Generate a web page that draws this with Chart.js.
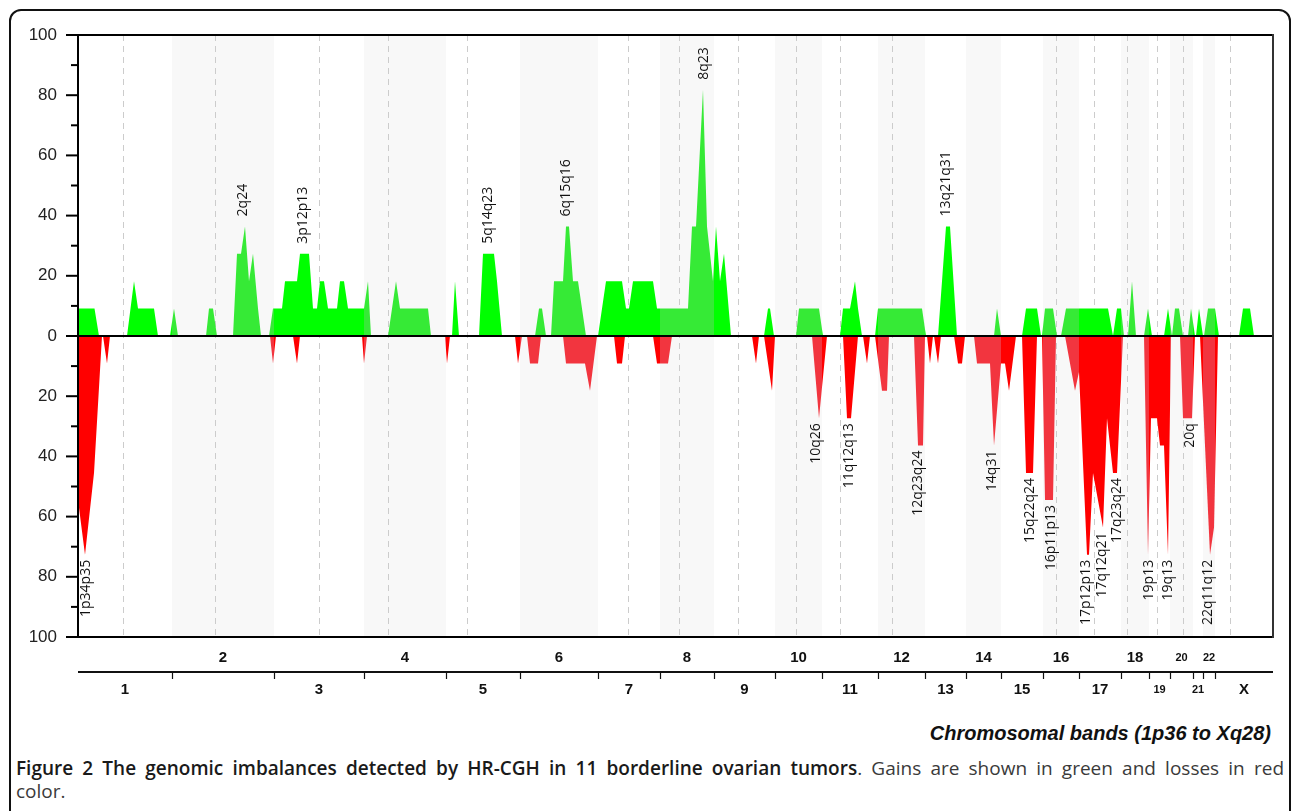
<!DOCTYPE html>
<html><head><meta charset="utf-8">
<script src="https://cdn.jsdelivr.net/npm/chart.js@4/dist/chart.umd.min.js"></script>
<style>
html,body{margin:0;padding:0;background:#fff;width:1293px;height:811px;overflow:hidden;position:relative;}
#frame{position:absolute;left:9px;top:9px;width:1282px;height:840px;border:2px solid #111;border-radius:12px;box-sizing:border-box;}
#c{position:absolute;left:0;top:0;}
#xtitle{position:absolute;right:22px;top:722px;line-height:22px;font:italic bold 20px 'Liberation Sans',Arial,sans-serif;color:#111;}
#cap{position:absolute;left:16px;top:757px;width:1268px;font-family:'Open Sans',sans-serif;font-size:16px;line-height:23px;color:#3a3a3a;}
#cap .l1{text-align:justify;text-align-last:justify;}
#cap b{color:#1a1a1a;font-weight:600;}
#meas{position:absolute;left:0;top:-200px;white-space:nowrap;font-family:'Open Sans',sans-serif;font-size:16px;visibility:hidden;}
#meas b{font-weight:600;}
</style></head><body>
<div id="frame"></div>
<canvas id="c" width="1293" height="720"></canvas>
<div id="xtitle">Chromosomal bands (1p36 to Xq28)</div>
<div id="cap"><div class="l1"><b>Figure 2 The genomic imbalances detected by HR-CGH in 11 borderline ovarian tumors</b>. Gains are shown in green and losses in red</div><div>color.</div></div>
<span id="meas"><b>Figure 2 The genomic imbalances detected by HR-CGH in 11 borderline ovarian tumors</b>. Gains are shown in green and losses in red</span>
<script>
// Genomic position units along the concatenated genome (1p36 -> Xq28)
const chromNames = ['1','2','3','4','5','6','7','8','9','10','11','12','13','14','15','16','17','18','19','20','21','22','X'];
const chromBounds = [0,94,196,286,368,442,520,582,636,697,744,800,847,888,923,965,1001,1043,1071,1092,1115,1125,1137,1195];
const centromeres = [45,137,241,310,389,550,601,660,718,762,814,978,1016,1049,1079,1105,1152];

// Percentage of tumors with gain (positive) at each position
const gains = [
[0,9.1],[16.5,9.1],[21,0],[49,0],[56,18.2],[60,9.1],[76,9.1],[80,0],
[92,0],[96,9.1],[100,0],[128,0],[131,9.1],[135,9.1],[139,0],
[155,0],[159,27.3],[163,27.3],[167,36.4],[171,18.2],[175,27.3],[180,9.1],[183,0],
[191,0],[195,9.1],[204,9.1],[207,18.2],[219,18.2],[222,27.3],[231,27.3],[235,9.1],[239,9.1],[242,18.2],[246,18.2],[250,9.1],[259,9.1],[262,18.2],[266,18.2],[270,9.1],[286,9.1],[290,18.2],[293,0],
[310,0],[318,18.2],[322,9.1],[350,9.1],[353,0],
[374,0],[377,18.2],[381,0],[401,0],[405,27.3],[416,27.3],[419,18.2],[424,0],
[457,0],[461,9.1],[464,9.1],[468,0],[473,0],[476,18.2],[485,18.2],[488,36.4],[491,36.4],[495,18.2],[500,18.2],[508,0],
[520,0],[528,18.2],[544,18.2],[548,9.1],[551,9.1],[555,18.2],[575,18.2],[579,9.1],
[610,9.1],[614,36.4],[618,36.4],[625,81.8],[629,36.4],[632,27.3],[635,18.2],[638,36.4],[642,18.2],[646,27.3],[653,0],
[686,0],[690,9.1],[692,9.1],[696,0],
[718,0],[721,9.1],[741,9.1],[745,0],
[762,0],[765,9.1],[772,9.1],[777,18.2],[780,9.1],[784,0],
[797,0],[800,9.1],[844,9.1],[848,0],
[860,0],[868,36.4],[872,36.4],[879,0],
[916,0],[919,9.1],[923,0],
[944,0],[948,9.1],[959,9.1],[963,0],
[964,0],[967,9.1],[975,9.1],[979,0],[983,0],[988,9.1],[1030,9.1],[1035,0],[1039,9.1],[1043,9.1],[1046,0],
[1050,0],[1054,18.2],[1058,0],[1066,0],[1070,9.1],[1074,0],
[1086,0],[1090,9.1],[1094,0],[1097,9.1],[1101,9.1],[1105,0],[1110,0],[1113,9.1],[1117,0],
[1118,0],[1121,9.1],[1125,0],[1126,0],[1130,9.1],[1137,9.1],[1141,0],
[1161,0],[1165,9.1],[1172,9.1],[1176,0]
];

// Percentage of tumors with loss (negative) at each position
const losses = [
[0,-54.5],[7,-72.7],[16,-45.5],[24,0],[25,0],[29,-9.1],[32,0],
[192,0],[195,-9.1],[198,0],[215,0],[219,-9.1],[222,0],
[284,0],[286,-9.1],[289,0],[367,0],[369,-9.1],[372,0],
[437,0],[440,-9.1],[444,0],[449,0],[452,-9.1],[460,-9.1],[463,0],[485,0],[488,-9.1],[507,-9.1],[512,-18.2],[519,0],
[536,0],[539,-9.1],[544,-9.1],[547,0],[575,0],[579,-9.1],[590,-9.1],[594,0],
[674,0],[678,-9.1],[681,0],[686,0],[694,-18.2],[697,0],
[734,0],[741,-27.3],[749,0],
[765,0],[769,-27.3],[773,-27.3],[780,0],[785,0],[789,-9.1],[792,0],
[797,0],[804,-18.2],[809,-18.2],[811,0],[836,0],[840,-36.4],[845,-36.4],[847,0],
[849,0],[852,-9.1],[855,0],[856,0],[860,-9.1],[863,0],[876,0],[880,-9.1],[884,-9.1],[887,0],
[896,0],[899,-9.1],[912,-9.1],[916,-36.4],[923,-9.1],[927,-9.1],[931,-18.2],[938,0],
[944,0],[948,-45.5],[955,-45.5],[959,0],
[964,0],[967,-54.5],[975,-54.5],[978,0],[987,0],[997,-18.2],[1001,-12],[1009,-72.7],[1011,-72.7],[1015,-45.5],[1025,-63.6],[1029,-27.3],[1035,-45.5],[1039,-45.5],[1045,0],
[1066,0],[1070,-72.7],[1073,-27.3],[1079,-27.3],[1082,-36.4],[1086,-36.4],[1090,-72.7],[1093,0],
[1102,0],[1105,-27.3],[1114,-27.3],[1117,0],
[1122,0],[1132,-72.7],[1136,-63.6],[1140,0]
];

// Annotated regions: name, position, peak value
const regionNames = ['2q24','3p12p13','5q14q23','6q15q16','8q23','13q21q31','1p34p35','10q26','11q12q13','12q23q24','14q31','15q22q24','16p11p13','17p12p13','17q12q21','17q23q24','19p13','19q13','20q','22q11q12'];
const regionPos   = [165,225,410,488,626,868,8,738,771,840,914,952,973,1008,1024,1039,1071,1090,1112,1130];
const regionPeak  = [36.4,27.3,27.3,36.4,81.8,36.4,-72.7,-27.3,-27.3,-36.4,-36.4,-45.5,-54.5,-72.7,-63.6,-45.5,-72.7,-72.7,-27.3,-72.7];

const yTicks = [-100,-80,-60,-40,-20,0,20,40,60,80,100];

// fit caption first line to the available width
(function(){
  const m=document.getElementById('meas');
  const w=m.getBoundingClientRect().width;
  const fs=Math.min(19, 16*1260/w);
  document.getElementById('cap').style.fontSize=fs.toFixed(2)+'px';
})();

function valueAt(series, p){
  if (p < series[0][0] || p > series[series.length-1][0]) return 0;
  for (let i=0;i<series.length-1;i++){
    const a=series[i], b=series[i+1];
    if (p>=a[0] && p<=b[0]){
      if (b[0]===a[0]) return a[1];
      return a[1] + (b[1]-a[1])*(p-a[0])/(b[0]-a[0]);
    }
  }
  return series[series.length-1][1];
}
function chromPoints(series, s, e){
  const pts=[{x:s,y:valueAt(series,s)}];
  series.forEach(([p,v])=>{ if(p>s && p<e) pts.push({x:p,y:v}); });
  pts.push({x:e,y:valueAt(series,e)});
  return pts;
}
const GAIN_ODD='#00ff00', GAIN_EVEN='#36ea36', LOSS_ODD='#ff0000', LOSS_EVEN='#f2353f';
const datasets=[];
chromNames.forEach((n,i)=>{
  const s=chromBounds[i], e=chromBounds[i+1], odd=(i%2===0);
  datasets.push({data:chromPoints(gains,s,e), fill:'origin', backgroundColor: odd?GAIN_ODD:GAIN_EVEN, borderColor:'rgba(0,0,0,0)', borderWidth:0, pointRadius:0, tension:0});
  datasets.push({data:chromPoints(losses,s,e), fill:'origin', backgroundColor: odd?LOSS_ODD:LOSS_EVEN, borderColor:'rgba(0,0,0,0)', borderWidth:0, pointRadius:0, tension:0});
});

const cghPlugin = {
  id:'cgh',
  beforeDatasetsDraw(chart){
    const {ctx, chartArea:a, scales:{x}} = chart;
    ctx.save();
    ctx.fillStyle='#f8f8f8';
    for(let i=0;i<chromNames.length;i++){
      if(i%2===1){
        const x0=x.getPixelForValue(chromBounds[i]), x1=x.getPixelForValue(chromBounds[i+1]);
        ctx.fillRect(x0,a.top,x1-x0,a.bottom-a.top);
      }
    }
    ctx.strokeStyle='#cccccc'; ctx.lineWidth=1; ctx.setLineDash([6,5]);
    centromeres.forEach(c=>{
      const px=Math.round(x.getPixelForValue(c))+0.5;
      ctx.beginPath(); ctx.moveTo(px,a.top); ctx.lineTo(px,a.bottom); ctx.stroke();
    });
    ctx.restore();
  },
  afterDatasetsDraw(chart){
    const {ctx, chartArea:a, scales:{x,y}} = chart;
    ctx.save();
    ctx.strokeStyle='#000'; ctx.lineWidth=2;
    const y0=y.getPixelForValue(0);
    ctx.beginPath(); ctx.moveTo(a.left,y0); ctx.lineTo(a.right,y0); ctx.stroke();
    ctx.beginPath(); ctx.moveTo(a.left,a.top); ctx.lineTo(a.right,a.top); ctx.stroke();
    ctx.beginPath(); ctx.moveTo(a.left,a.bottom); ctx.lineTo(a.right,a.bottom); ctx.stroke();
    ctx.beginPath(); ctx.moveTo(a.left,a.top-1); ctx.lineTo(a.left,a.bottom+1); ctx.stroke();
    ctx.strokeStyle='#333';
    ctx.beginPath(); ctx.moveTo(a.right,a.top-1); ctx.lineTo(a.right,a.bottom+1); ctx.stroke();
    ctx.strokeStyle='#000'; ctx.lineWidth=2;
    for(let v=-100; v<=100; v+=10){
      const py=y.getPixelForValue(v), len=(v%20===0)?12:7;
      ctx.beginPath(); ctx.moveTo(a.left-len,py); ctx.lineTo(a.left,py); ctx.stroke();
    }
    ctx.fillStyle='#111'; ctx.font='14px "Open Sans", "DejaVu Sans", sans-serif'; ctx.textBaseline='middle';
    regionNames.forEach((t,i)=>{
      const px=x.getPixelForValue(regionPos[i]), py=y.getPixelForValue(regionPeak[i]);
      ctx.save();
      if(regionPeak[i]>0){ ctx.translate(px,py-10); ctx.rotate(-Math.PI/2); ctx.textAlign='left'; }
      else { ctx.translate(px,py+5); ctx.rotate(-Math.PI/2); ctx.textAlign='right'; }
      ctx.fillText(t,0,0);
      ctx.restore();
    });
    const ya=a.bottom+35;
    ctx.strokeStyle='#111'; ctx.lineWidth=2;
    ctx.beginPath(); ctx.moveTo(a.left,ya); ctx.lineTo(a.right,ya); ctx.stroke();
    ctx.lineWidth=1.2;
    for(let i=1;i<chromNames.length;i++){
      const px=Math.round(x.getPixelForValue(chromBounds[i]))+0.5;
      ctx.beginPath(); ctx.moveTo(px,ya); ctx.lineTo(px,ya+7); ctx.stroke();
    }
    ctx.fillStyle='#111'; ctx.textAlign='center'; ctx.textBaseline='middle';
    chromNames.forEach((n,i)=>{
      const cx=(x.getPixelForValue(chromBounds[i])+x.getPixelForValue(chromBounds[i+1]))/2;
      const small=(i>=18 && i<=21);
      ctx.font='bold '+(small?11:15)+'px "Liberation Sans", Arial, sans-serif';
      const cy=(i%2===1)? ya-14 : ya+18;
      ctx.fillText(n,cx,cy);
    });
    ctx.restore();
  }
};

new Chart(document.getElementById('c'), {
  type:'line',
  data:{datasets},
  options:{
    responsive:false, animation:false, devicePixelRatio:1,
    layout:{padding:{left:0,top:35,right:20,bottom:83}},
    plugins:{legend:{display:false}, tooltip:{enabled:false}},
    scales:{
      x:{type:'linear', min:0, max:1195, display:false},
      y:{type:'linear', min:-100, max:100,
         afterFit(s){ s.width=78; },
         afterBuildTicks(s){ s.ticks = yTicks.map(v=>({value:v})); },
         border:{display:false},
         grid:{display:true, drawOnChartArea:false, drawTicks:true, tickLength:12, tickColor:'rgba(0,0,0,0)'},
         ticks:{padding:9, color:'#222', font:{family:'"Liberation Sans", Arial, sans-serif', size:17},
                callback:(v)=>String(Math.abs(v))}
      }
    }
  },
  plugins:[cghPlugin]
});
</script>
</body></html>
